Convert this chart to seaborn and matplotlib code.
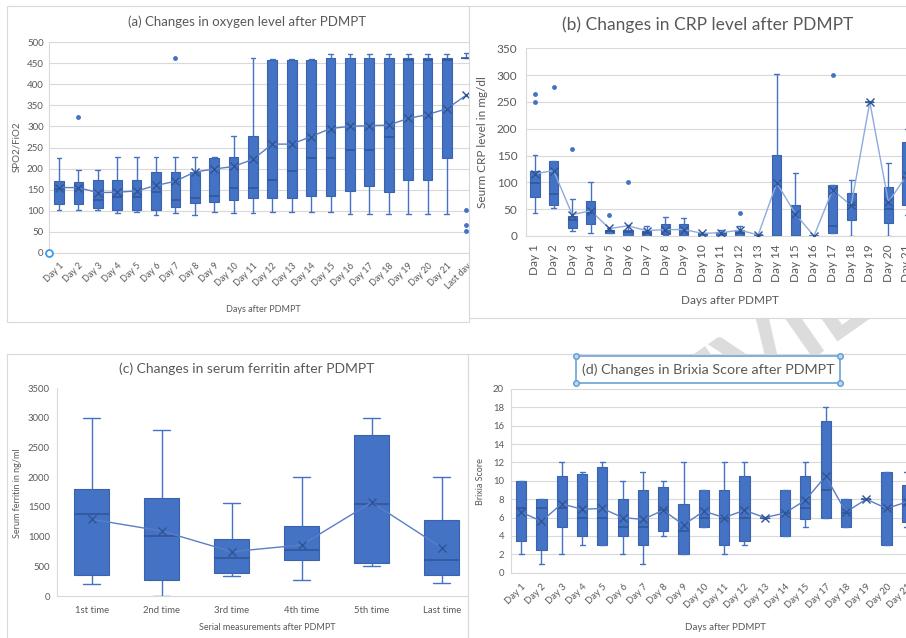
import pandas as pd
import seaborn as sns
import matplotlib.pyplot as plt
from matplotlib.patches import Rectangle
from matplotlib.lines import Line2D

# ---------------- data ----------------
# (a) SPO2/FiO2
a_days = ['Day 1', 'Day 2', 'Day 3', 'Day 4', 'Day 5', 'Day 6', 'Day 7', 'Day 8',
          'Day 9', 'Day 10', 'Day 11', 'Day 12', 'Day 13', 'Day 14', 'Day 15', 'Day 16',
          'Day 17', 'Day 18', 'Day 19', 'Day 20', 'Day 21', 'Last day']
a_lo = [103, 103, 103, 95, 96, 91, 95, 91, 96, 95, 95, 96, 96, 96, 96, 93, 93, 93, 93, 93, 93, 462]
a_q1 = [115, 115, 106, 103, 103, 103, 110, 118, 122, 126, 130, 130, 130, 135, 135, 148, 158, 144, 174, 174, 224, 462]
a_med = [152, 155, 126, 132, 132, 144, 126, 131, 134, 153, 153, 173, 194, 224, 224, 243, 243, 276, 458, 458, 458, 462]
a_q3 = [171, 168, 172, 172, 172, 193, 193, 193, 225, 227, 277, 458, 458, 458, 462, 462, 462, 462, 462, 462, 462, 462]
a_hi = [225, 197, 197, 227, 227, 227, 227, 227, 227, 277, 462, 460, 460, 460, 471, 471, 471, 471, 471, 471, 471, 474]
a_mean = [155, 155, 143, 144, 147, 160, 170, 192, 199, 205, 222, 258, 258, 276, 295, 300, 302, 303, 319, 328, 342, 374]
a_out_days = ['Day 2', 'Day 7', 'Last day', 'Last day', 'Last day']
a_out_vals = [323, 462, 101, 66, 52]

# (b) CRP
b_days = ['Day 1', 'Day 2', 'Day 3', 'Day 4', 'Day 5', 'Day 6', 'Day 7', 'Day 8',
          'Day 9', 'Day 10', 'Day 11', 'Day 12', 'Day 13', 'Day 14', 'Day 15', 'Day 16',
          'Day 17', 'Day 18', 'Day 19', 'Day 20', 'Day 21']
b_lo = [43, 53, 10, 6, 6, 1, 1, 1, 0, 0, 1, 1, 2, 0, 0, 0, 5, 0, 250, 0, 40]
b_q1 = [73, 58, 14, 22, 6, 1, 1, 4, 1, 0, 1, 1, 2, 0, 0, 0, 5, 29, 250, 24, 58]
b_med = [99, 78, 30, 42, 10, 7, 5, 12, 11, 3, 5, 5, 2, 0, 0, 0, 19, 58, 250, 50, 110]
b_q3 = [122, 140, 37, 65, 12, 12, 10, 22, 22, 6, 8, 12, 2, 151, 58, 0, 95, 81, 250, 91, 176]
b_hi = [151, 140, 69, 101, 14, 20, 19, 35, 33, 6, 11, 19, 2, 303, 117, 0, 95, 104, 250, 137, 200]
b_mean = [116, 122, 40, 47, 14, 19, 10, 12, 12, 5, 6, 11, 2, 99, 41, 0, 86, 57, 250, 63, 114]
b_out_days = ['Day 1', 'Day 1', 'Day 2', 'Day 3', 'Day 5', 'Day 6', 'Day 12', 'Day 17']
b_out_vals = [264, 250, 278, 162, 39, 101, 42, 300]

# (c) serum ferritin
c_times = ['1st time', '2nd time', '3rd time', '4th time', '5th time', 'Last time']
c_lo = [197, 0, 343, 270, 511, 213]
c_q1 = [354, 275, 393, 607, 562, 354]
c_med = [1388, 1006, 635, 775, 1556, 607]
c_q3 = [1803, 1646, 955, 1174, 2713, 1287]
c_hi = [3000, 2800, 1560, 2000, 3000, 2000]
c_mean = [1292, 1096, 747, 860, 1579, 815]

# (d) Brixia score (no Day 16)
d_days = ['Day 1', 'Day 2', 'Day 3', 'Day 4', 'Day 5', 'Day 6', 'Day 7', 'Day 8',
          'Day 9', 'Day 10', 'Day 11', 'Day 12', 'Day 13', 'Day 14', 'Day 15', 'Day 17',
          'Day 18', 'Day 19', 'Day 20', 'Day 21']
d_lo = [2, 1, 2, 3, 3, 2, 1, 4, 2, 5, 2, 3, 6, 4, 5, 6, 5, 8, 3, 5]
d_q1 = [3.5, 2.5, 5, 4, 3, 4, 3, 4.5, 2, 5, 3, 3.5, 6, 4, 5.8, 6, 5, 8, 3, 5.5]
d_med = [7, 7, 7, 6, 6, 5, 5, 6.8, 4.5, 6, 6, 6, 6, 6.5, 7, 9, 6.5, 8, 7, 7.5]
d_q3 = [10, 8, 10.5, 10.8, 11.5, 8, 9, 9.3, 7.5, 9, 9, 10.5, 6, 9, 10.5, 16.5, 8, 8, 11, 9.5]
d_hi = [10, 8, 12, 11, 12, 10, 11, 10, 12, 9, 12, 12, 6, 9, 12, 18, 8, 8, 11, 11]
d_mean = [6.6, 5.6, 7.5, 6.9, 7.0, 6.0, 5.8, 6.8, 5.2, 6.7, 6.0, 6.8, 6.0, 6.5, 7.9, 10.5, 6.6, 8.0, 7.0, 7.7]

# ---------------- style ----------------
BOX = '#4472C4'
EDGE = '#3A62AD'
MED = '#2F5597'
GRID = '#D9D9D9'
TXT = '#595959'

sns.set_style('white')
plt.rcParams['font.family'] = ['Lato', 'DejaVu Sans']

W, H = 906, 638
fig = plt.figure(figsize=(W / 100, H / 100), dpi=100)


def rect(l, t, r, b):
    # pixel box of the screenshot -> figure fraction
    return [l / W, 1 - b / H, (r - l) / W, (b - t) / H]


def frame(l, t, r, b, z):
    fig.add_artist(Rectangle((l / W, 1 - b / H), (r - l) / W, (b - t) / H,
                             transform=fig.transFigure, facecolor='white',
                             edgecolor=GRID, lw=0.8, zorder=z))


def label(x, y, s, size, rot=0):
    fig.text(x / W, 1 - y / H, s, ha='center', va='center', fontsize=size,
             color=TXT, rotation=rot, zorder=10)


def draw_boxes(ax, cats, lo, q1, med, q3, hi, means, line_color,
               out_cats=None, out_vals=None):
    rows = []
    for c, v1, v2, v3, v4, v5 in zip(cats, lo, q1, med, q3, hi):
        for v in (v1, v2, v3, v4, v5):
            rows.append((c, v))
    df = pd.DataFrame(rows, columns=['cat', 'value'])
    sns.boxplot(data=df, x='cat', y='value', order=cats, whis=(0, 100), width=0.5,
                color=BOX, saturation=1, linewidth=0.8, linecolor=EDGE,
                medianprops=dict(color=MED, linewidth=1.1),
                whiskerprops=dict(color=BOX, linewidth=1),
                capprops=dict(color=BOX, linewidth=1),
                showfliers=False, ax=ax)
    sns.pointplot(x=cats, y=means, order=cats, color=line_color, marker='x',
                  markersize=6, markeredgewidth=1, linewidth=1, errorbar=None,
                  zorder=6, ax=ax)
    ax.lines[-1].set_markeredgecolor(MED)
    if out_cats:
        sns.stripplot(x=out_cats, y=out_vals, order=cats, jitter=False, color=BOX,
                      size=3.5, zorder=6, ax=ax)
    ax.set_xlim(-0.5, len(cats) - 0.5)
    ax.set_xlabel('')
    ax.set_ylabel('')
    for s in ['top', 'right']:
        ax.spines[s].set_visible(False)
    for s in ['left', 'bottom']:
        ax.spines[s].set_color(GRID)
        ax.spines[s].set_linewidth(0.8)


# faint watermark behind the charts, only seen in the gap between rows
fig.text(790 / W, 1 - 335 / H, 'REVIEW', fontsize=72, fontweight='bold',
         color='#DCDCDC', rotation=35, ha='center', va='center', zorder=0)

# ---------------- panel frames ----------------
frame(7, 6, 469, 322, 1)
frame(469, 6, 930, 318, 3)
frame(7, 354, 468, 650, 1)
frame(468, 354, 930, 650, 3)

# ---------------- (a) ----------------
ax_a = fig.add_axes(rect(49.3, 42, 476, 253))
ax_a.set_zorder(2)
draw_boxes(ax_a, a_days, a_lo, a_q1, a_med, a_q3, a_hi, a_mean, '#5A7EC6',
           a_out_days, a_out_vals)
ax_a.set_ylim(0, 500)
ax_a.set_yticks(range(0, 501, 50))
ax_a.yaxis.grid(True, color=GRID, lw=0.8)
ax_a.set_axisbelow(True)
ax_a.set_xticks(range(len(a_days)))
ax_a.set_xticklabels(a_days, rotation=45, ha='right', va='top', rotation_mode='anchor')
ax_a.tick_params(axis='x', length=0, pad=6, labelsize=6.5, labelcolor=TXT)
ax_a.tick_params(axis='y', length=0, pad=4, labelsize=7, labelcolor=TXT)
ax_a.plot([-0.5], [0], marker='o', ms=5, mfc='white', mec='#3C9BEA', mew=1.3,
          clip_on=False, zorder=8)
label(247, 22, '(a) Changes in oxygen level after PDMPT', 9.5)
label(17, 147, 'SPO2/FiO2', 7, 90)
label(263, 309, 'Days after PDMPT', 6.5)

# ---------------- (b) ----------------
ax_b = fig.add_axes(rect(525.7, 48.3, 916.3, 236))
ax_b.set_zorder(4)
draw_boxes(ax_b, b_days, b_lo, b_q1, b_med, b_q3, b_hi, b_mean, '#8FAADC',
           b_out_days, b_out_vals)
ax_b.set_ylim(0, 350)
ax_b.set_yticks(range(0, 351, 50))
ax_b.yaxis.grid(True, color=GRID, lw=0.8)
ax_b.set_axisbelow(True)
ax_b.set_xticks(range(len(b_days)))
ax_b.set_xticklabels(b_days, rotation=90, ha='right', va='center', rotation_mode='anchor')
ax_b.tick_params(axis='x', length=0, pad=6, labelsize=8.5, labelcolor=TXT)
ax_b.tick_params(axis='y', length=0, pad=6, labelsize=8.5, labelcolor=TXT)
label(708, 25, '(b) Changes in CRP level after PDMPT', 12.5)
label(483, 142, 'Seurm CRP level in mg/dl', 8.5, 90)
label(730, 301, 'Days after PDMPT', 8.5)

# ---------------- (c) ----------------
ax_c = fig.add_axes(rect(56.7, 388.3, 476.7, 596))
ax_c.set_zorder(2)
draw_boxes(ax_c, c_times, c_lo, c_q1, c_med, c_q3, c_hi, c_mean, '#5A7EC6')
ax_c.set_ylim(0, 3500)
ax_c.set_yticks(range(0, 3501, 500))
ax_c.tick_params(axis='x', length=0, pad=7, labelsize=6.8, labelcolor=TXT)
ax_c.tick_params(axis='y', length=0, pad=5, labelsize=6.8, labelcolor=TXT)
label(247, 369, '(c) Changes in serum ferritin after PDMPT', 10)
label(18, 493, 'Serum ferritin in ng/ml', 6.5, 90)
label(267, 628, 'Serial measurements after PDMPT', 6.5)

# ---------------- (d) ----------------
ax_d = fig.add_axes(rect(511, 389, 917, 572.7))
ax_d.set_zorder(4)
draw_boxes(ax_d, d_days, d_lo, d_q1, d_med, d_q3, d_hi, d_mean, '#5A7EC6')
ax_d.set_ylim(0, 20)
ax_d.set_yticks(range(0, 21, 2))
ax_d.yaxis.grid(True, color=GRID, lw=0.8)
ax_d.set_axisbelow(True)
ax_d.set_xticks(range(len(d_days)))
ax_d.set_xticklabels(d_days, rotation=45, ha='right', va='top', rotation_mode='anchor')
ax_d.tick_params(axis='x', length=0, pad=7, labelsize=6.8, labelcolor=TXT)
ax_d.tick_params(axis='y', length=0, pad=5, labelsize=6.9, labelcolor=TXT)
label(708, 370, '(d) Changes in Brixia Score after PDMPT', 10.3)
label(480, 482, 'Brixia Score', 6.5, 90)
label(725, 628, 'Days after PDMPT', 7)

# selection box around title (d)
x1, x2, y1, y2 = 576.3 / W, 840 / W, 1 - 355.7 / H, 1 - 382.7 / H
fig.add_artist(Rectangle((x1, y2), x2 - x1, y1 - y2, transform=fig.transFigure,
                         fill=False, edgecolor='#5B9BD5', lw=1.1, zorder=11))
fig.add_artist(Line2D([x1, x2, x1, x2], [y1, y1, y2, y2], ls='none', marker='o', ms=4,
                      mfc='#BDD7EE', mec='#5B9BD5', mew=1, transform=fig.transFigure,
                      zorder=12))

fig.savefig('out.png', dpi=100, facecolor='white')
